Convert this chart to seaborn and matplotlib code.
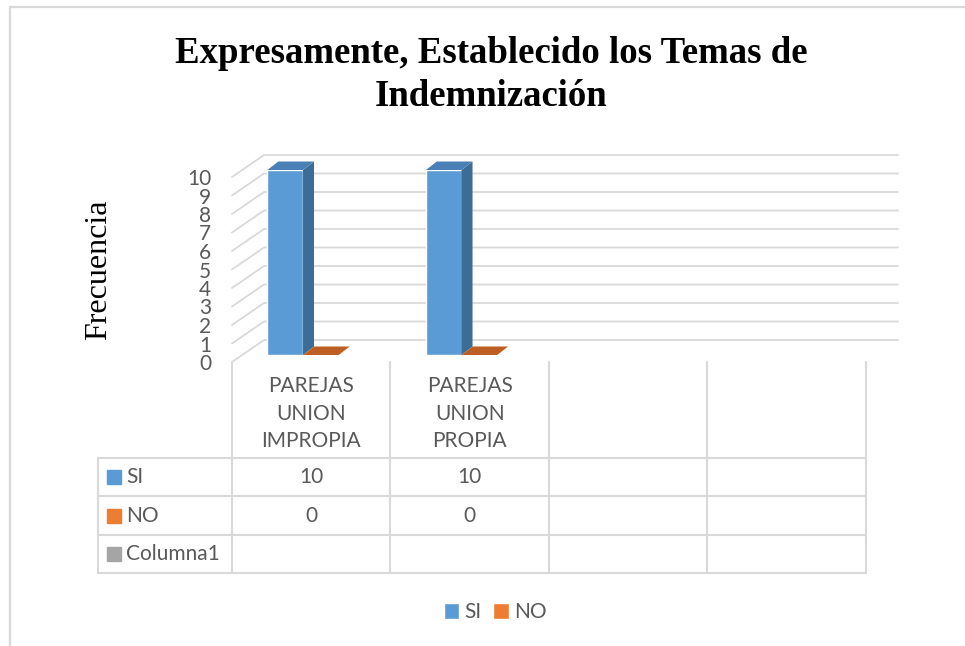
import pandas as pd
import matplotlib.pyplot as plt
import seaborn as sns
from matplotlib.patches import Polygon
from matplotlib.lines import Line2D

# datos del grafico
categorias = ["PAREJAS\nUNION\nIMPROPIA", "PAREJAS\nUNION\nPROPIA"]
columnas_tabla = categorias + ["", ""]
series = ["SI", "NO"]
si = [10, 10]
no = [0, 0]
filas_tabla = ["SI", "NO", "Columna1"]
valores_tabla = {"SI": si, "NO": no, "Columna1": [None, None]}
yticks = list(range(0, 11))

colores = {"SI": "#5B9BD5", "NO": "#ED7D31", "Columna1": "#A5A5A5"}
lados = {"SI": "#3D6C96", "NO": "#B0561C"}
topes = {"SI": "#4A80B6", "NO": "#BD5F22"}
gris = "#D9D9D9"
texto = "#595959"

df = pd.DataFrame({
    "categoria": categorias * 2,
    "serie": ["SI"] * len(si) + ["NO"] * len(no),
    "frecuencia": si + no,
})

sns.set_style("white")
plt.rcParams["font.family"] = ["Lato", "DejaVu Sans"]

W, H = 965, 646
fig = plt.figure(figsize=(W / 100, H / 100), dpi=100)


def caja(x0, y0, x1, y1):
    return [x0 / W, 1 - y1 / H, (x1 - x0) / W, (y1 - y0) / H]


def desplaza(eje, x, y, dx, dy):
    px, py = eje.transData.transform((x, y))
    return tuple(eje.transData.inverted().transform((px + dx, py + dy)))


# plano frontal (ticks, eje y, rejilla)
fax = fig.add_axes(caja(232, 177, 866, 362))
fax.set_xlim(0, 4)
fax.set_ylim(0, 10)
fax.set_facecolor("none")
for s in fax.spines.values():
    s.set_visible(False)
fax.set_xticks([])
fax.set_yticks(yticks)
fax.tick_params(axis="y", length=0, pad=15, labelsize=15, labelcolor=texto)
fax.set_ylabel("Frecuencia", family="Liberation Serif", fontsize=23,
               color="black", labelpad=53)
for v in yticks:
    pts = [(0, v), desplaza(fax, 0, v, 32, 22), desplaza(fax, 4, v, 32, 22)]
    fax.add_line(Line2D([p[0] for p in pts], [p[1] for p in pts],
                        color=gris, lw=1.3, clip_on=False, zorder=0))

# barras
ax = fig.add_axes(caja(242, 170, 876, 355))
sns.barplot(data=df, x="categoria", y="frecuencia", hue="serie",
            hue_order=series, order=categorias, palette=colores,
            width=0.45, saturation=1, ax=ax)
ax.set_xlim(-0.385, 3.615)
ax.set_ylim(0, 10)
ax.set_facecolor("none")
for s in ax.spines.values():
    s.set_visible(False)
ax.set_xticks([])
ax.set_yticks([])
ax.set_xlabel("")
ax.set_ylabel("")

DX, DY = 11, 8.5
for cont, serie in zip(ax.containers, series):
    for barra in cont:
        barra.set_clip_on(False)
        x0 = barra.get_x()
        x1 = x0 + barra.get_width()
        h = barra.get_height()
        lado = [(x1, 0), (x1, h), desplaza(ax, x1, h, DX, DY), desplaza(ax, x1, 0, DX, DY)]
        tope = [(x0, h), (x1, h), desplaza(ax, x1, h, DX, DY), desplaza(ax, x0, h, DX, DY)]
        if h > 0:
            ax.add_patch(Polygon(lado, closed=True, facecolor=lados[serie],
                                 edgecolor="none", clip_on=False))
        ax.add_patch(Polygon(tope, closed=True, facecolor=topes[serie],
                             edgecolor="none", clip_on=False))

sns.move_legend(ax, "center", bbox_to_anchor=(495 / W, 1 - 612 / H),
                bbox_transform=fig.transFigure, ncol=2, frameon=False,
                title=None, fontsize=15, labelcolor=texto,
                handlelength=0.75, handleheight=0.8, handletextpad=0.25,
                columnspacing=0.55)

# tabla de datos
LW = 134 / 158.5
HDR = 96 / 38.2
tax = fig.add_axes(caja(98, 362, 866, 573))
tax.set_xlim(-LW, 4)
tax.set_ylim(0, 3 + HDR)
tax.axis("off")
n_filas = len(filas_tabla)
for i in range(len(columnas_tabla) + 1):
    tax.plot([i, i], [0, n_filas + HDR], color=gris, lw=1.5, clip_on=False)
tax.plot([-LW, -LW], [0, n_filas], color=gris, lw=1.5, clip_on=False)
for j in range(n_filas + 1):
    tax.plot([-LW, 4], [j, j], color=gris, lw=1.5, clip_on=False)

for i, cat in enumerate(columnas_tabla):
    tax.text(i + 0.5, n_filas + HDR / 2 - 0.09, cat, ha="center", va="center",
             fontsize=15, color=texto, linespacing=1.45)

for j, fila in enumerate(filas_tabla):
    yc = n_filas - j - 0.5
    tax.plot(-LW + 16 / 158.5, yc, marker="s", ms=10, color=colores[fila],
             clip_on=False)
    tax.text(-LW + 28 / 158.5, yc, fila, ha="left", va="center",
             fontsize=15, color=texto)
    for i, val in enumerate(valores_tabla[fila]):
        if val is not None:
            tax.text(i + 0.5, yc, str(val), ha="center", va="center",
                     fontsize=15, color=texto)

# titulo
fig.text(491 / W, 1 - 75 / H, "Expresamente, Establecido los Temas de\nIndemnización",
         ha="center", va="center", fontsize=26.5, fontweight="bold",
         family="Liberation Serif", linespacing=1.28, color="black")

# borde del area del grafico
fig.add_artist(Line2D([10 / W, 10 / W], [0, 1 - 7 / H], transform=fig.transFigure,
                      color=gris, lw=1.6))
fig.add_artist(Line2D([10 / W, 1], [1 - 7 / H, 1 - 7 / H], transform=fig.transFigure,
                      color=gris, lw=1.6))

fig.savefig("out.png", dpi=100)
